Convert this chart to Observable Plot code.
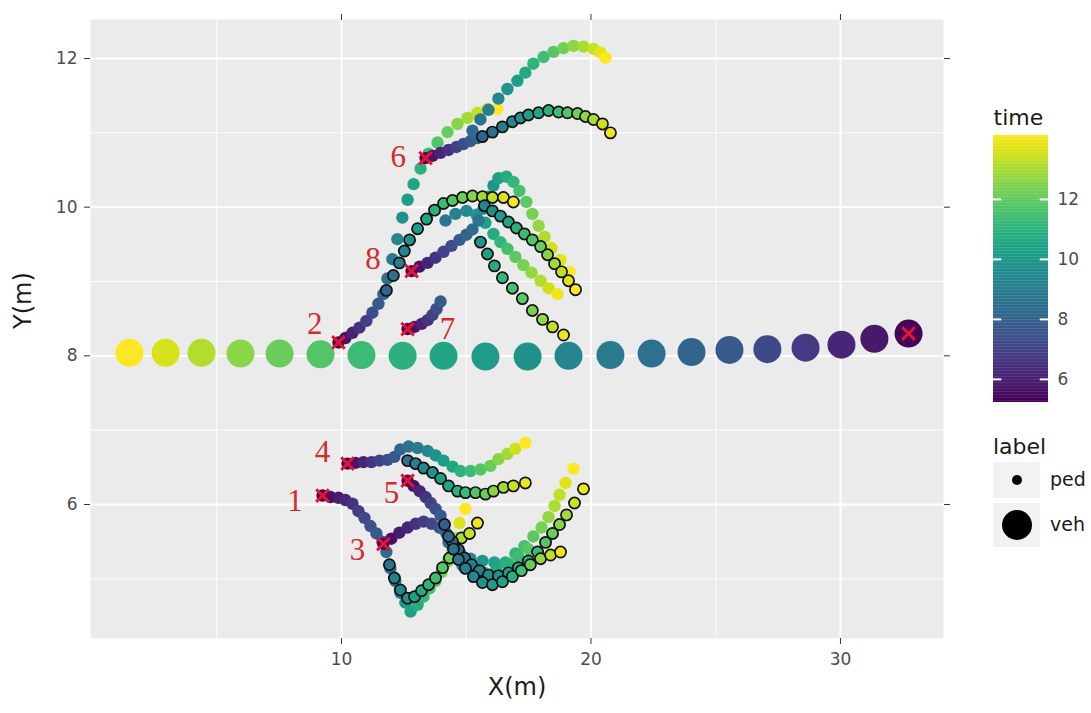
<!DOCTYPE html>
<html><head><meta charset="utf-8">
<script src="https://cdn.jsdelivr.net/npm/d3@7"></script>
<script src="https://cdn.jsdelivr.net/npm/@observablehq/plot@0.6"></script>
<style>
body{margin:0;background:#fff;}
#wrap{position:relative;width:1091px;height:713px;font-family:"DejaVu Sans",sans-serif;}
#wrap > *{position:absolute;}
</style></head><body><div id="wrap"></div>
<script>
// ---- vehicle (x, y, time) ----
const vehX = [1.50,2.95,4.39,5.95,7.52,9.16,10.80,12.45,14.09,15.77,17.46,19.10,20.78,22.43,24.03,25.55,27.07,28.60,30.04,31.36,32.73];
const vehY = [8.04,8.04,8.04,8.03,8.03,8.02,8.01,8.00,8.00,7.99,7.99,8.00,8.01,8.03,8.05,8.08,8.09,8.11,8.15,8.23,8.30];
const vehT = [14.1,13.6,13.1,12.6,12.1,11.7,11.3,10.9,10.5,10.1,9.7,9.3,8.9,8.5,8.1,7.7,7.2,6.7,6.2,5.8,5.3];

// ---- pedestrians: [x, y, time] ----
const hist6 = [[13.37,10.66,5.3],[13.65,10.69,5.7],[13.97,10.73,6.1],[14.29,10.77,6.5],[14.61,10.81,6.9],[14.89,10.85,7.3],[15.17,10.89,7.7],[15.45,10.93,8.1]];
const gt6 = [[15.65,10.95,8.1],[16.05,11.01,8.5],[16.45,11.08,8.9],[16.85,11.15,9.3],[17.17,11.20,9.7],[17.49,11.24,10.1],[17.90,11.27,10.5],[18.30,11.30,10.9],[18.70,11.28,11.3],[19.06,11.27,11.7],[19.46,11.26,12.2],[19.78,11.22,12.6],[20.10,11.18,13.0],[20.46,11.12,13.5],[20.78,11.00,13.9]];
const pred6 = [[15.25,11.03,8.2],[15.57,11.18,8.6],[15.89,11.31,9.0],[16.29,11.46,9.4],[16.65,11.59,9.8],[17.05,11.70,10.2],[17.37,11.81,10.6],[17.69,11.93,11.0],[18.10,12.02,11.4],[18.50,12.09,11.8],[18.90,12.14,12.2],[19.30,12.17,12.6],[19.70,12.16,13.0],[20.10,12.13,13.4],[20.38,12.08,13.8],[20.58,12.01,14.1]];

const hist2 = [[9.88,8.18,5.3],[10.16,8.24,5.7],[10.44,8.31,6.1],[10.72,8.38,6.5],[11.00,8.47,6.9],[11.24,8.58,7.3],[11.48,8.70,7.7],[11.68,8.83,8.1]];
const pred2 = [[11.84,9.04,8.5],[12.04,9.30,8.9],[12.24,9.57,9.3],[12.44,9.86,9.7],[12.65,10.10,10.1],[12.89,10.31,10.5],[13.17,10.52,10.9],[13.49,10.72,11.3],[13.85,10.87,11.7],[14.25,11.01,12.1],[14.65,11.12,12.5],[15.05,11.20,12.9],[15.45,11.27,13.3],[15.85,11.32,13.7],[16.25,11.32,14.1]];
const gt2 = [[11.80,8.88,8.1],[12.08,9.08,8.5],[12.32,9.25,8.9],[12.52,9.41,9.3],[12.73,9.56,9.7],[13.05,9.71,10.1],[13.41,9.84,10.5],[13.73,9.96,10.9],[14.09,10.05,11.3],[14.45,10.09,11.7],[14.85,10.13,12.1],[15.25,10.15,12.5],[15.65,10.14,12.9],[16.05,10.13,13.3],[16.49,10.13,13.7],[16.89,10.07,14.1]];

const hist8 = [[12.81,9.14,5.3],[13.13,9.20,5.7],[13.45,9.25,6.1],[13.77,9.32,6.5],[14.09,9.40,6.9],[14.41,9.48,7.3],[14.73,9.56,7.7],[15.01,9.63,8.0],[15.25,9.70,8.3]];
const pred8 = [[15.49,9.82,8.7],[15.69,9.98,9.1],[15.89,10.14,9.5],[16.09,10.29,9.9],[16.29,10.39,10.3],[16.61,10.41,10.7],[16.89,10.34,11.1],[17.13,10.22,11.5],[17.41,10.07,11.9],[17.65,9.91,12.3],[17.90,9.75,12.7],[18.14,9.60,13.1],[18.42,9.45,13.5],[18.78,9.29,13.8],[19.14,9.13,14.1]];
const gt8 = [[15.73,10.02,9.3],[16.05,9.95,9.7],[16.37,9.88,10.1],[16.69,9.80,10.5],[17.01,9.72,10.9],[17.33,9.64,11.3],[17.65,9.56,11.7],[17.98,9.47,12.1],[18.26,9.36,12.5],[18.54,9.24,12.9],[18.82,9.13,13.3],[19.10,9.01,13.7],[19.38,8.89,14.1]];

const hist7 = [[12.65,8.36,5.3],[12.93,8.39,5.7],[13.21,8.43,6.1],[13.45,8.48,6.5],[13.65,8.55,6.9],[13.81,8.63,7.3],[13.97,8.73,7.7]];
const pred7 = [[14.17,9.82,8.7],[14.57,9.91,9.1],[15.01,9.95,9.5],[15.41,9.90,9.9],[15.77,9.79,10.3],[16.09,9.64,10.7],[16.37,9.53,11.1],[16.65,9.44,11.5],[16.97,9.33,11.9],[17.29,9.22,12.3],[17.62,9.12,12.7],[17.98,9.01,13.1],[18.30,8.91,13.5],[18.66,8.83,13.9]];
const gt7 = [[15.57,9.53,9.9],[15.85,9.37,10.3],[16.13,9.21,10.7],[16.45,9.05,11.1],[16.85,8.91,11.5],[17.25,8.77,11.9],[17.65,8.61,12.3],[18.06,8.49,12.7],[18.46,8.39,13.3],[18.90,8.28,13.9]];

const hist4 = [[10.24,6.55,5.3],[10.56,6.56,5.7],[10.88,6.57,6.1],[11.20,6.57,6.5],[11.52,6.59,6.9],[11.84,6.60,7.3],[12.12,6.64,7.7]];
const pred4 = [[12.36,6.74,8.1],[12.69,6.78,8.5],[13.05,6.76,8.9],[13.45,6.72,9.3],[13.77,6.66,9.7],[14.09,6.59,10.1],[14.45,6.51,10.5],[14.77,6.45,10.9],[15.17,6.45,11.3],[15.57,6.47,11.7],[15.97,6.52,12.1],[16.29,6.61,12.5],[16.65,6.68,12.9],[16.97,6.75,13.5],[17.37,6.83,14.1]];
const gt4 = [[12.65,6.59,8.5],[12.97,6.55,8.9],[13.29,6.49,9.3],[13.65,6.43,9.7],[13.97,6.35,10.1],[14.29,6.25,10.5],[14.65,6.18,10.9],[14.97,6.16,11.3],[15.37,6.16,11.7],[15.77,6.14,12.1],[16.09,6.18,12.5],[16.49,6.23,12.9],[16.89,6.25,13.4],[17.37,6.29,13.9]];

const hist5 = [[12.65,6.32,5.3],[12.89,6.25,5.7],[13.13,6.18,6.1],[13.37,6.10,6.5],[13.57,6.02,6.9],[13.77,5.94,7.3],[13.97,5.85,7.7]];
const pred5 = [[14.09,5.67,8.1],[14.29,5.49,8.5],[14.53,5.31,8.9],[14.85,5.18,9.3],[15.25,5.11,9.7],[15.73,5.08,10.1],[16.21,5.12,10.5],[16.69,5.20,10.9],[17.09,5.30,11.3],[17.49,5.40,11.8]];
const gt5 = [[14.13,5.73,7.9],[14.29,5.57,8.2],[14.49,5.40,8.5],[14.69,5.26,8.8],[14.97,5.14,9.1],[15.29,5.03,9.4],[15.65,4.95,9.7],[16.05,4.92,10.0],[16.45,4.96,10.4],[16.85,5.03,10.9],[17.21,5.11,11.5],[17.57,5.19,12.1],[17.98,5.27,12.7],[18.38,5.32,13.3],[18.78,5.36,13.9]];

const hist3 = [[11.68,5.47,5.3],[12.00,5.54,5.6],[12.32,5.62,5.9],[12.65,5.69,6.2],[12.97,5.74,6.5],[13.29,5.77,6.8],[13.61,5.74,7.1],[13.93,5.69,7.4],[14.21,5.61,7.7]];
const pred3 = [[14.45,5.44,8.7],[14.77,5.34,9.1],[15.17,5.27,9.5],[15.65,5.24,9.9],[16.13,5.22,10.3],[16.57,5.22,10.7],[16.97,5.34,11.1],[17.33,5.44,11.5],[17.69,5.57,11.9],[18.02,5.69,12.3],[18.30,5.83,12.7],[18.54,5.98,13.0],[18.74,6.13,13.3],[18.98,6.29,13.7],[19.30,6.48,14.1]];
const gt3 = [[14.45,5.50,8.0],[14.69,5.39,8.3],[14.93,5.28,8.6],[15.21,5.19,8.9],[15.53,5.11,9.2],[15.89,5.05,9.5],[16.29,5.04,9.8],[16.69,5.08,10.1],[17.09,5.15,10.5],[17.49,5.24,10.9],[17.86,5.36,11.3],[18.18,5.49,11.7],[18.46,5.61,12.1],[18.74,5.73,12.5],[19.02,5.86,12.9],[19.34,6.02,13.4],[19.70,6.21,13.9]];

const hist1 = [[9.24,6.12,5.3],[9.56,6.10,5.6],[9.88,6.09,5.9],[10.16,6.06,6.2],[10.44,6.01,6.5],[10.68,5.91,6.8],[10.92,5.82,7.1],[11.16,5.71,7.4],[11.40,5.61,7.7],[11.64,5.50,8.0],[11.80,5.36,8.3]];
const pred1 = [[11.96,5.14,8.7],[12.16,4.97,9.1],[12.36,4.81,9.5],[12.56,4.68,9.9],[12.77,4.56,10.3],[13.05,4.65,10.7],[13.29,4.76,11.1],[13.53,4.87,11.5],[13.77,4.97,11.9],[14.01,5.09,12.3],[14.25,5.23,12.7],[14.45,5.38,13.1],[14.61,5.55,13.4],[14.73,5.75,13.7],[14.97,5.94,14.1]];
const gt1 = [[11.92,5.19,8.6],[12.12,5.01,9.0],[12.36,4.85,9.4],[12.65,4.74,9.8],[12.93,4.76,10.2],[13.21,4.84,10.6],[13.49,4.92,11.0],[13.77,5.01,11.4],[14.05,5.15,11.8],[14.33,5.28,12.2],[14.57,5.43,12.6],[14.81,5.55,13.0],[15.13,5.61,13.4],[15.45,5.75,13.9]];

// ---- pedestrian id labels (data coordinates) ----
const labelText = ["6","8","2","7","4","1","5","3"];
const labelX = [12.28,11.26,8.93,14.25,9.24,8.14,12.00,10.64];
const labelY = [10.68,9.30,8.43,8.36,6.70,6.04,6.16,5.38];

// ---- ticks ----
const xMajor = [10,20,30], xMinor = [5,15,25];
const yMajor = [6,8,10,12], yMinor = [5,7,9,11];
const legendTicks = [6,8,10,12];
const timeDomain = [5.23,14.13];

const tracks = [
  {ped:"1",kind:"hist",pts:hist1},{ped:"1",kind:"pred",pts:pred1},{ped:"1",kind:"gt",pts:gt1},
  {ped:"2",kind:"hist",pts:hist2},{ped:"2",kind:"pred",pts:pred2},{ped:"2",kind:"gt",pts:gt2},
  {ped:"3",kind:"hist",pts:hist3},{ped:"3",kind:"pred",pts:pred3},{ped:"3",kind:"gt",pts:gt3},
  {ped:"4",kind:"hist",pts:hist4},{ped:"4",kind:"pred",pts:pred4},{ped:"4",kind:"gt",pts:gt4},
  {ped:"5",kind:"hist",pts:hist5},{ped:"5",kind:"pred",pts:pred5},{ped:"5",kind:"gt",pts:gt5},
  {ped:"6",kind:"hist",pts:hist6},{ped:"6",kind:"pred",pts:pred6},{ped:"6",kind:"gt",pts:gt6},
  {ped:"7",kind:"hist",pts:hist7},{ped:"7",kind:"pred",pts:pred7},{ped:"7",kind:"gt",pts:gt7},
  {ped:"8",kind:"hist",pts:hist8},{ped:"8",kind:"pred",pts:pred8},{ped:"8",kind:"gt",pts:gt8}
];
const rows = tracks.flatMap(tr => tr.pts.map(([x,y,t]) => ({x,y,t,kind:tr.kind,ped:tr.ped})));
const vehRows = vehX.map((x,i) => ({x, y:vehY[i], t:vehT[i]}));
const starts = tracks.filter(d => d.kind === "hist").map(d => ({x:d.pts[0][0], y:d.pts[0][1]}));
starts.push(vehRows.reduce((a,b) => b.t < a.t ? b : a));
const labels = labelText.map((s,i) => ({s, x:labelX[i], y:labelY[i]}));

const colorOpt = {type:"linear", scheme:"viridis", domain:timeDomain};
const ink = "#1a1a1a", tickInk = "#333333", tickLab = "#4d4d4d";
const intFmt = d => String(d);

const main = Plot.plot({
  width:1091, height:713,
  marginLeft:90, marginRight:148, marginTop:19, marginBottom:75,
  x:{domain:[-0.06,34.13], label:null, axis:null},
  y:{domain:[4.197,12.525], label:null, axis:null},
  color:colorOpt,
  style:{fontFamily:"DejaVu Sans", background:"transparent"},
  marks:[
    Plot.frame({fill:"#ebebeb", stroke:"none"}),
    Plot.ruleX(xMinor, {stroke:"#ffffff", strokeWidth:0.9}),
    Plot.ruleY(yMinor, {stroke:"#ffffff", strokeWidth:0.9}),
    Plot.ruleX(xMajor, {stroke:"#ffffff", strokeWidth:1.9}),
    Plot.ruleY(yMajor, {stroke:"#ffffff", strokeWidth:1.9}),
    Plot.axisX(xMajor, {anchor:"bottom", tickSize:6, tickPadding:8, tickFormat:intFmt, fontSize:17, fill:tickLab, stroke:tickInk, label:null}),
    Plot.axisX(xMajor, {anchor:"top", tickSize:6, tickFormat:() => "", stroke:tickInk, label:null}),
    Plot.axisY(yMajor, {anchor:"left", tickSize:6, tickPadding:7, tickFormat:intFmt, fontSize:17, fill:tickLab, stroke:tickInk, label:null}),
    Plot.axisY(yMajor, {anchor:"right", tickSize:6, tickFormat:() => "", stroke:tickInk, label:null}),
    Plot.text(["X(m)"], {text:d => d, frameAnchor:"bottom", dy:56, fontSize:24, fill:ink}),
    Plot.text(["Y(m)"], {text:d => d, frameAnchor:"left", dx:-67, rotate:-90, fontSize:24, fill:ink}),
    Plot.dot(vehRows, {x:"x", y:"y", fill:"t", r:14}),
    Plot.dot(rows.filter(d => d.kind !== "gt"), {x:"x", y:"y", fill:"t", r:6.2}),
    Plot.dot(rows.filter(d => d.kind === "gt"), {x:"x", y:"y", fill:"t", r:5.6, stroke:"#111111", strokeWidth:1.7}),
    Plot.dot(starts, {x:"x", y:"y", symbol:"times", r:5.8, stroke:"#e8132e", strokeWidth:3}),
    Plot.text(labels, {x:"x", y:"y", text:"s", fill:"#d42c2c", fontSize:31, fontFamily:"Liberation Serif"})
  ]
});
main.style.left = "0px"; main.style.top = "0px";
document.getElementById("wrap").appendChild(main);

// ---- colour bar legend ----
const steps = d3.range(timeDomain[0], timeDomain[1], 0.05);
const cbar = Plot.plot({
  width:111, height:320, margin:0,
  x:{domain:[0,1], range:[13,68], axis:null},
  y:{domain:timeDomain, range:[302,35], axis:null},
  color:colorOpt,
  style:{fontFamily:"DejaVu Sans", background:"transparent", overflow:"visible"},
  marks:[
    Plot.rect(steps, {x1:0, x2:1, y1:d => d, y2:d => Math.min(d + 0.06, timeDomain[1]), fill:d => d}),
    Plot.ruleY(legendTicks, {x1:0, x2:0.15, stroke:"#ffffff", strokeWidth:2}),
    Plot.ruleY(legendTicks, {x1:0.85, x2:1, stroke:"#ffffff", strokeWidth:2}),
    Plot.text(legendTicks, {x:1, y:d => d, dx:9, text:d => String(d), textAnchor:"start", fontSize:17, fill:tickLab}),
    Plot.text(["time"], {x:0, y:timeDomain[1], dy:-18, text:d => d, textAnchor:"start", fontSize:22, fill:ink})
  ]
});
cbar.style.left = "980px"; cbar.style.top = "100px";
document.getElementById("wrap").appendChild(cbar);

// ---- shape (label) legend ----
const sizeKeys = [{name:"ped", r:5, y:50, h:36, top:32}, {name:"veh", r:15, y:95, h:44, top:73}];
const lg = d3.create("svg").attr("width",111).attr("height",130)
  .style("left","980px").style("top","430px").style("font-family","DejaVu Sans");
lg.append("text").attr("x",13).attr("y",18).attr("dominant-baseline","middle")
  .attr("font-size",22).attr("fill",ink).text("label");
const g = lg.selectAll("g").data(sizeKeys).join("g");
g.append("rect").attr("x",13).attr("y",d => d.top).attr("width",47).attr("height",d => d.h).attr("fill","#f2f2f2");
g.append("circle").attr("cx",37).attr("cy",d => d.y).attr("r",d => d.r).attr("fill","#000");
g.append("text").attr("x",70).attr("y",d => d.y).attr("dominant-baseline","middle")
  .attr("font-size",19).attr("fill",ink).text(d => d.name);
document.getElementById("wrap").appendChild(lg.node());
</script>
</body></html>
